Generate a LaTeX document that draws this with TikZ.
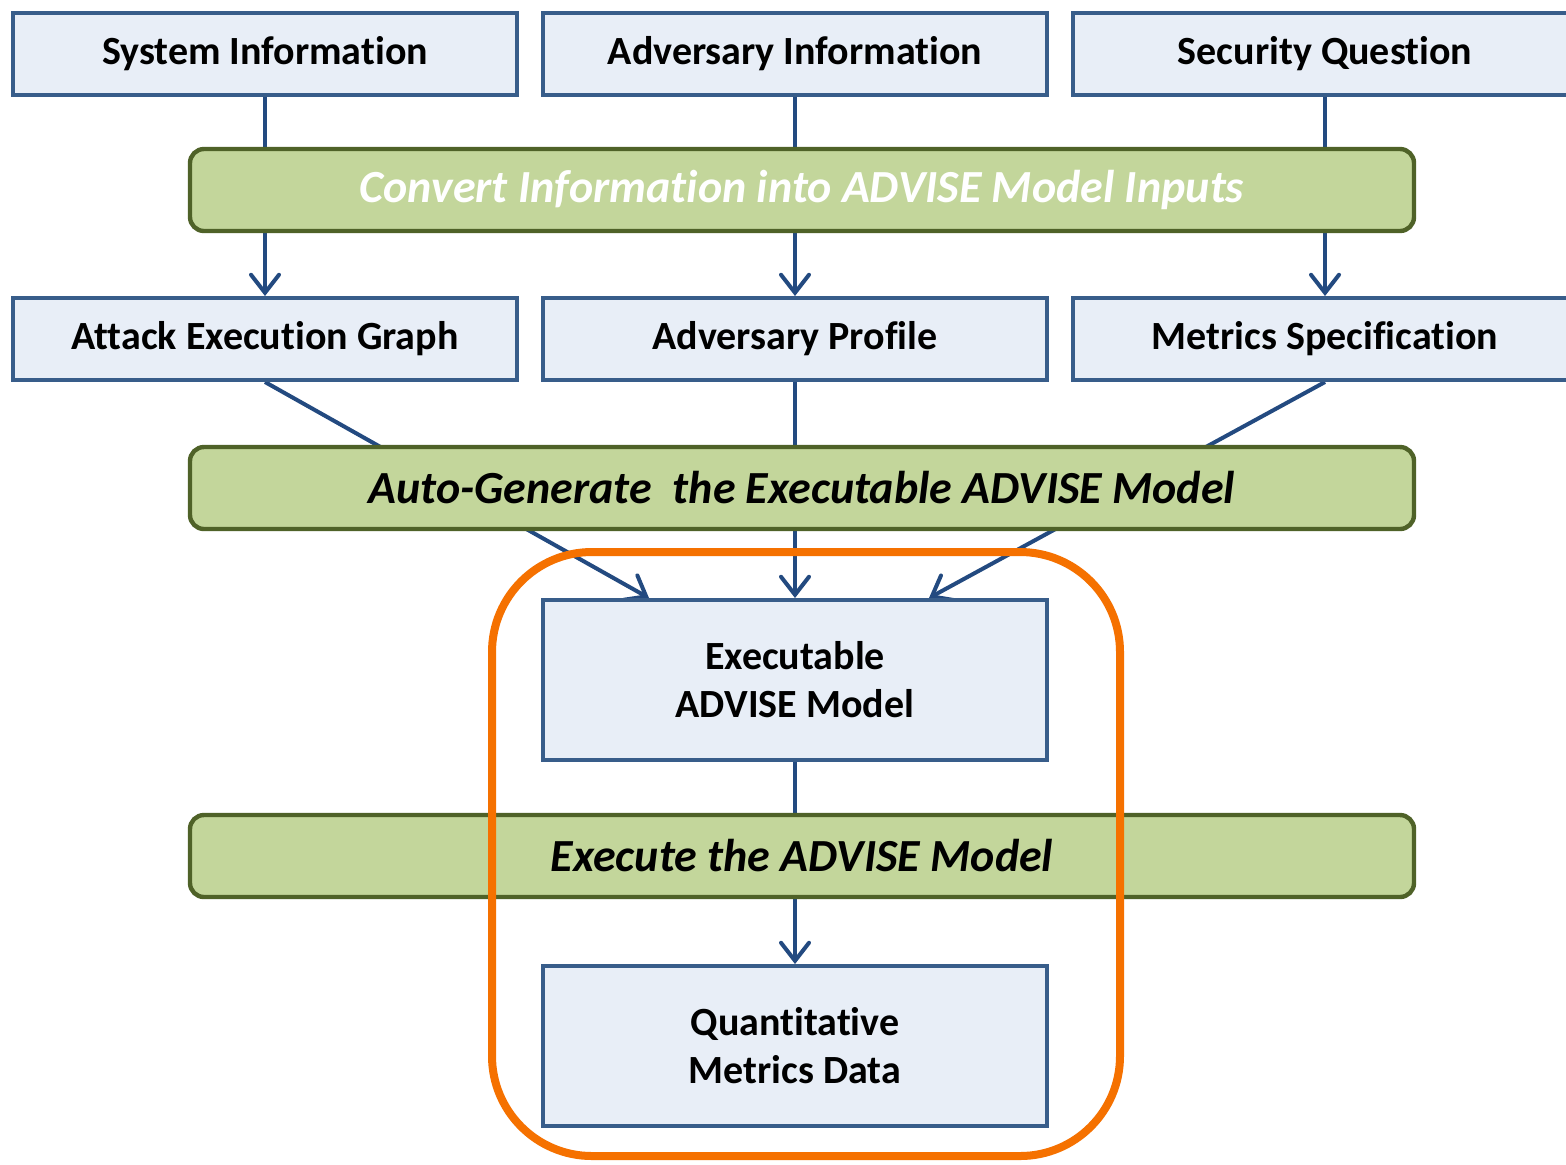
\documentclass[tikz,border=0pt]{standalone}
\usepackage{fontspec}
\setmainfont[Ligatures=NoCommon]{Carlito}
\usetikzlibrary{arrows.meta,backgrounds}

\definecolor{boxblue}{RGB}{232,238,247}
\definecolor{boxline}{RGB}{56,93,138}
\definecolor{arrowblue}{RGB}{35,74,128}
\definecolor{barfill}{RGB}{195,214,155}
\definecolor{barline}{RGB}{79,98,40}
\definecolor{ringorange}{RGB}{245,113,0}

\tikzset{
  infobox/.style={draw=boxline, fill=boxblue, line width=2pt, inner sep=0pt,
    minimum width=252pt, minimum height=41pt, align=center,
    font=\bfseries\fontsize{20}{24}\selectfont},
  bigbox/.style={infobox, minimum height=80pt},
  stepbar/.style={draw=barline, fill=barfill, line width=2.2pt, rounded corners=7pt,
    inner sep=0pt, minimum width=612pt, minimum height=41pt,
    font=\bfseries\itshape\fontsize{23}{27}\selectfont},
  link/.style={draw=arrowblue, line width=2pt},
  flow/.style={link, -{Straight Barb[length=9pt,width=14pt,line cap=round]}}
}

\begin{document}
\begin{tikzpicture}[x=0.5pt, y=-0.5pt]
  \useasboundingbox (0,0) rectangle (1566,1164);

  % inputs
  \node[infobox] (sysinfo) at (265,54) {System Information};
  \node[infobox] (advinfo) at (795,54) {Adversary Information};
  \node[infobox] (secq) at (1325,54) {Security Question};

  \node[stepbar, text=white] (convert) at (802,190) {Convert Information into ADVISE Model Inputs};

  % model inputs
  \node[infobox] (aeg) at (265,339) {Attack Execution Graph};
  \node[infobox] (advprof) at (795,339) {Adversary Profile};
  \node[infobox] (metspec) at (1325,339) {Metrics Specification};

  \node[stepbar] (autogen) at (802,488) {Auto-Generate~ the Executable ADVISE Model};

  % model and results
  \node[bigbox] (model) at (795,680) {Executable\\ADVISE Model};
  \node[stepbar] (execute) at (802,856) {Execute the ADVISE Model};
  \node[bigbox] (quant) at (795,1046) {Quantitative\\Metrics Data};

  % connectors behind the bars
  \begin{scope}[on background layer]
    \fill[white] (0,0) rectangle (1566,1164);
    \draw[link] (sysinfo.south) -- (sysinfo.south |- convert.north);
    \draw[link] (advinfo.south) -- (advinfo.south |- convert.north);
    \draw[link] (secq.south) -- (secq.south |- convert.north);
    \draw[flow] (aeg.north |- convert.south) -- (aeg.north);
    \draw[flow] (advprof.north |- convert.south) -- (advprof.north);
    \draw[flow] (metspec.north |- convert.south) -- (metspec.north);
    \draw[flow] (aeg.south) -- ([xshift=-73pt]model.north);
    \draw[flow] (advprof.south) -- (model.north);
    \draw[flow] (metspec.south) -- ([xshift=67pt]model.north);
    \draw[flow] (model.south) -- (quant.north);
  \end{scope}

  % orange ring
  \draw[ringorange, line width=4pt, rounded corners=50pt] (492,552) rectangle (1120,1156);
\end{tikzpicture}
\end{document}
